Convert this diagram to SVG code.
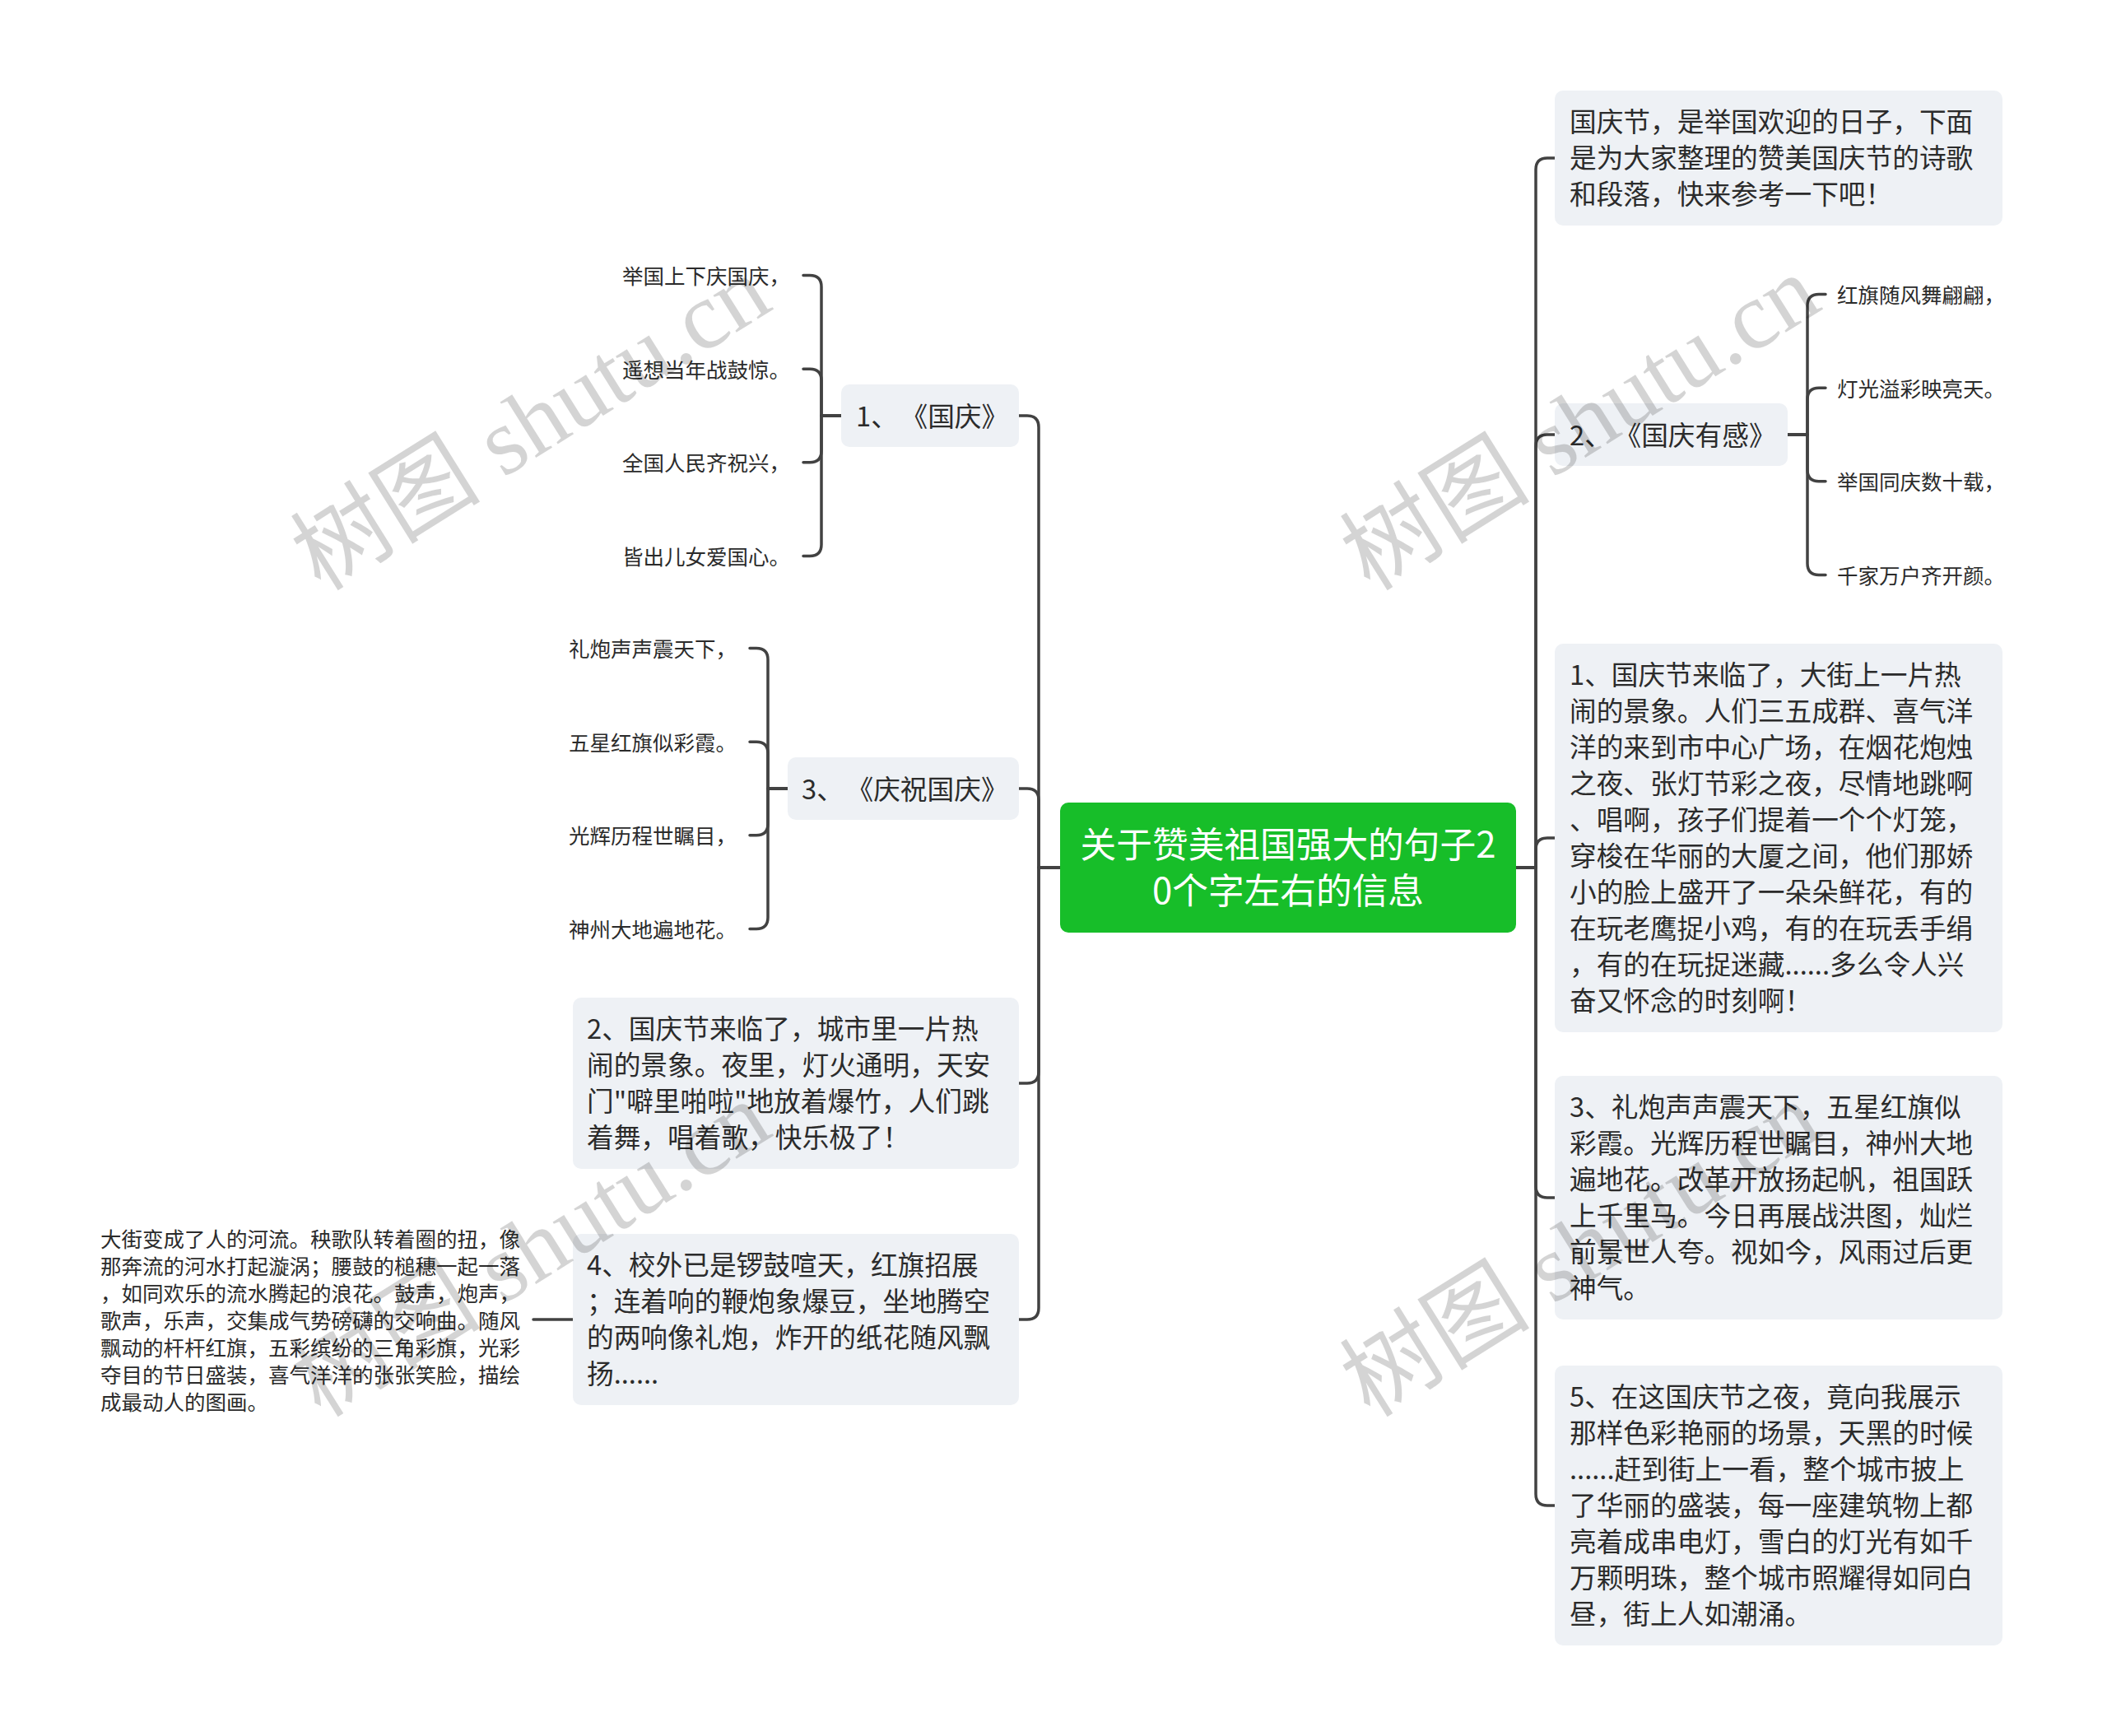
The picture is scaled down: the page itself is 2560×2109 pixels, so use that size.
<svg xmlns="http://www.w3.org/2000/svg" width="2560" height="2109" viewBox="0 0 2560 2109">
<style>
.box{fill:#eef1f5}
.t{font-family:"Noto Sans CJK SC","Noto Sans",sans-serif;fill:#2b2b2b;dominant-baseline:central}
.topic{font-size:32.7px}
.leaf{font-size:25.5px}
.center{font-size:43.7px;fill:#ffffff;text-anchor:middle}
.ln{fill:none;stroke:#424242;stroke-width:3.5;stroke-linecap:round;stroke-linejoin:round}
.wm{font-family:"Liberation Serif","Noto Sans CJK SC",serif;font-size:116px;fill:#000000;fill-opacity:0.17;text-anchor:middle;dominant-baseline:central}
</style>
<rect width="2560" height="2109" fill="#ffffff"/>
<g id="connectors">
<path class="ln" d="M1842 1054 H1866 V206 Q1866 192 1880 192 H1889"/>
<path class="ln" d="M1842 1054 H1866 V542 Q1866 528 1880 528 H1889"/>
<path class="ln" d="M1842 1054 H1866 V1032 Q1866 1018 1880 1018 H1889"/>
<path class="ln" d="M1842 1054 H1866 V1441 Q1866 1455 1880 1455 H1889"/>
<path class="ln" d="M1842 1054 H1866 V1815 Q1866 1829 1880 1829 H1889"/>
<path class="ln" d="M1288 1054 H1262 V519 Q1262 505 1248 505 H1238"/>
<path class="ln" d="M1288 1054 H1262 V972 Q1262 958 1248 958 H1238"/>
<path class="ln" d="M1288 1054 H1262 V1302 Q1262 1316 1248 1316 H1238"/>
<path class="ln" d="M1288 1054 H1262 V1589 Q1262 1603 1248 1603 H1238"/>
<path class="ln" d="M1022 505 H998 V348.5 Q998 334.5 984 334.5 H976"/>
<path class="ln" d="M1022 505 H998 V462.2 Q998 448.2 984 448.2 H976"/>
<path class="ln" d="M1022 505 H998 V547.8 Q998 561.8 984 561.8 H976"/>
<path class="ln" d="M1022 505 H998 V661.5 Q998 675.5 984 675.5 H976"/>
<path class="ln" d="M957 958 H933 V801.5 Q933 787.5 919 787.5 H911"/>
<path class="ln" d="M957 958 H933 V915.2 Q933 901.2 919 901.2 H911"/>
<path class="ln" d="M957 958 H933 V1000.8 Q933 1014.8 919 1014.8 H911"/>
<path class="ln" d="M957 958 H933 V1114.5 Q933 1128.5 919 1128.5 H911"/>
<path class="ln" d="M2172 528 H2196 V371.5 Q2196 357.5 2210 357.5 H2218"/>
<path class="ln" d="M2172 528 H2196 V485.2 Q2196 471.2 2210 471.2 H2218"/>
<path class="ln" d="M2172 528 H2196 V570.8 Q2196 584.8 2210 584.8 H2218"/>
<path class="ln" d="M2172 528 H2196 V684.5 Q2196 698.5 2210 698.5 H2218"/>
<path class="ln" d="M696 1603 H648"/>
</g>
<g id="center">
<rect x="1288" y="975" width="554" height="158" rx="10" fill="#17be29"/>
<text class="t center" x="1565" y="1023">关于赞美祖国强大的句子2<tspan x="1565" dy="56">0个字左右的信息</tspan></text>
</g>
<g id="r1">
<rect class="box" x="1889" y="110" width="544" height="164" rx="10"/>
<text class="t topic" x="1907" y="145">国庆节，是举国欢迎的日子，下面</text>
<text class="t topic" x="1907" y="189">是为大家整理的赞美国庆节的诗歌</text>
<text class="t topic" x="1907" y="233">和段落，快来参考一下吧！</text>
</g>
<g id="r2">
<rect class="box" x="1889" y="490" width="283" height="76" rx="10"/>
<text class="t topic" x="1907" y="526">2、<tspan dx="20">《国庆有感》</tspan></text>
</g>
<g id="r2a"><text class="t leaf" x="2232" y="356.5">红旗随风舞翩翩，</text></g>
<g id="r2b"><text class="t leaf" x="2232" y="470.2">灯光溢彩映亮天。</text></g>
<g id="r2c"><text class="t leaf" x="2232" y="583.8">举国同庆数十载，</text></g>
<g id="r2d"><text class="t leaf" x="2232" y="697.5">千家万户齐开颜。</text></g>
<g id="r3">
<rect class="box" x="1889" y="782" width="544" height="472" rx="10"/>
<text class="t topic" x="1907" y="817">1、国庆节来临了，大街上一片热</text>
<text class="t topic" x="1907" y="861">闹的景象。人们三五成群、喜气洋</text>
<text class="t topic" x="1907" y="905">洋的来到市中心广场，在烟花炮烛</text>
<text class="t topic" x="1907" y="949">之夜、张灯节彩之夜，尽情地跳啊</text>
<text class="t topic" x="1907" y="993">、唱啊，孩子们提着一个个灯笼，</text>
<text class="t topic" x="1907" y="1037">穿梭在华丽的大厦之间，他们那娇</text>
<text class="t topic" x="1907" y="1081">小的脸上盛开了一朵朵鲜花，有的</text>
<text class="t topic" x="1907" y="1125">在玩老鹰捉小鸡，有的在玩丢手绢</text>
<text class="t topic" x="1907" y="1169">，有的在玩捉迷藏......多么令人兴</text>
<text class="t topic" x="1907" y="1213">奋又怀念的时刻啊！</text>
</g>
<g id="r4">
<rect class="box" x="1889" y="1307" width="544" height="296" rx="10"/>
<text class="t topic" x="1907" y="1342">3、礼炮声声震天下，五星红旗似</text>
<text class="t topic" x="1907" y="1386">彩霞。光辉历程世瞩目，神州大地</text>
<text class="t topic" x="1907" y="1430">遍地花。改革开放扬起帆，祖国跃</text>
<text class="t topic" x="1907" y="1474">上千里马。今日再展战洪图，灿烂</text>
<text class="t topic" x="1907" y="1518">前景世人夸。视如今，风雨过后更</text>
<text class="t topic" x="1907" y="1562">神气。</text>
</g>
<g id="r5">
<rect class="box" x="1889" y="1659" width="544" height="340" rx="10"/>
<text class="t topic" x="1907" y="1694">5、在这国庆节之夜，竟向我展示</text>
<text class="t topic" x="1907" y="1738">那样色彩艳丽的场景，天黑的时候</text>
<text class="t topic" x="1907" y="1782">......赶到街上一看，整个城市披上</text>
<text class="t topic" x="1907" y="1826">了华丽的盛装，每一座建筑物上都</text>
<text class="t topic" x="1907" y="1870">亮着成串电灯，雪白的灯光有如千</text>
<text class="t topic" x="1907" y="1914">万颗明珠，整个城市照耀得如同白</text>
<text class="t topic" x="1907" y="1958">昼，街上人如潮涌。</text>
</g>
<g id="l1">
<rect class="box" x="1022" y="467" width="216" height="76" rx="10"/>
<text class="t topic" x="1040" y="503">1、<tspan dx="20">《国庆》</tspan></text>
</g>
<g id="l1a"><text class="t leaf" x="756" y="333.5">举国上下庆国庆，</text></g>
<g id="l1b"><text class="t leaf" x="756" y="447.2">遥想当年战鼓惊。</text></g>
<g id="l1c"><text class="t leaf" x="756" y="560.8">全国人民齐祝兴，</text></g>
<g id="l1d"><text class="t leaf" x="756" y="674.5">皆出儿女爱国心。</text></g>
<g id="l2">
<rect class="box" x="957" y="920" width="281" height="76" rx="10"/>
<text class="t topic" x="974" y="956">3、<tspan dx="20">《庆祝国庆》</tspan></text>
</g>
<g id="l2a"><text class="t leaf" x="691" y="786.5">礼炮声声震天下，</text></g>
<g id="l2b"><text class="t leaf" x="691" y="900.2">五星红旗似彩霞。</text></g>
<g id="l2c"><text class="t leaf" x="691" y="1013.8">光辉历程世瞩目，</text></g>
<g id="l2d"><text class="t leaf" x="691" y="1127.5">神州大地遍地花。</text></g>
<g id="l3">
<rect class="box" x="696" y="1212" width="542" height="208" rx="10"/>
<text class="t topic" x="713" y="1247">2、国庆节来临了，城市里一片热</text>
<text class="t topic" x="713" y="1291">闹的景象。夜里，灯火通明，天安</text>
<text class="t topic" x="713" y="1335">门"噼里啪啦"地放着爆竹，人们跳</text>
<text class="t topic" x="713" y="1379">着舞，唱着歌，快乐极了！</text>
</g>
<g id="l4">
<rect class="box" x="696" y="1499" width="542" height="208" rx="10"/>
<text class="t topic" x="713" y="1534">4、校外已是锣鼓喧天，红旗招展</text>
<text class="t topic" x="713" y="1578">；连着响的鞭炮象爆豆，坐地腾空</text>
<text class="t topic" x="713" y="1622">的两响像礼炮，炸开的纸花随风飘</text>
<text class="t topic" x="713" y="1666">扬......</text>
</g>
<g id="l4a">
<text class="t leaf" x="122" y="1503">大街变成了人的河流。秧歌队转着圈的扭，像</text>
<text class="t leaf" x="122" y="1536">那奔流的河水打起漩涡；腰鼓的槌穗一起一落</text>
<text class="t leaf" x="122" y="1569">，如同欢乐的流水腾起的浪花。鼓声，炮声，</text>
<text class="t leaf" x="122" y="1602">歌声，乐声，交集成气势磅礴的交响曲。随风</text>
<text class="t leaf" x="122" y="1635">飘动的杆杆红旗，五彩缤纷的三角彩旗，光彩</text>
<text class="t leaf" x="122" y="1668">夺目的节日盛装，喜气洋洋的张张笑脸，描绘</text>
<text class="t leaf" x="122" y="1701">成最动人的图画。</text>
</g>
<g id="watermarks">
<text class="wm" transform="translate(645 514) rotate(-32)">树图 shutu.cn</text>
<text class="wm" transform="translate(1920 514) rotate(-32)">树图 shutu.cn</text>
<text class="wm" transform="translate(645 1518) rotate(-32)">树图 shutu.cn</text>
<text class="wm" transform="translate(1920 1518) rotate(-32)">树图 shutu.cn</text>
</g>
</svg>
